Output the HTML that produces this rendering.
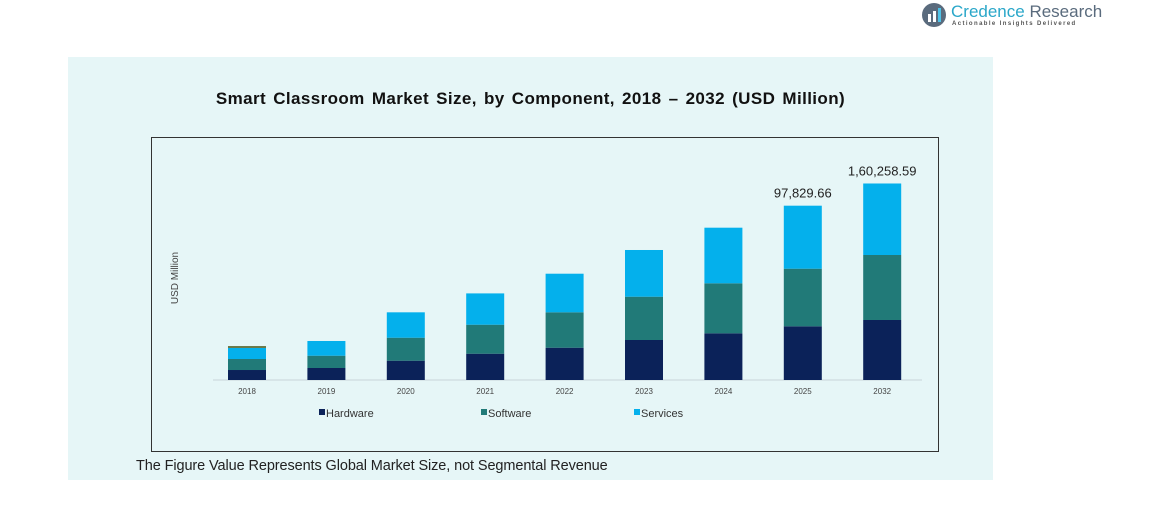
<!DOCTYPE html>
<html><head><meta charset="utf-8"><style>
body{margin:0;width:1172px;height:531px;background:#fff;font-family:"Liberation Sans",sans-serif;position:relative;overflow:hidden}
</style></head><body>
<div style="position:absolute;left:921px;top:2px;width:180px;height:28px">
<svg width="26" height="26" style="position:absolute;left:0;top:0"><circle cx="13" cy="13" r="12" fill="#5a6b7d"/><rect x="7" y="12" width="3" height="8" fill="#fff"/><rect x="12" y="9" width="3" height="11" fill="#fff"/><rect x="17" y="6" width="3" height="14" fill="#4fc3e8"/></svg>
<div style="position:absolute;left:30px;top:0px;font-size:17px;color:#2aa7c9;white-space:nowrap">Credence <span style="color:#5a6b7d">Research</span></div>
<div style="position:absolute;left:31px;top:19px;font-size:6px;letter-spacing:1.4px;color:#555;white-space:nowrap;font-weight:bold">Actionable Insights Delivered</div>
</div>
<div style="position:absolute;left:68px;top:57px;width:925px;height:423px;background:#e6f6f7"></div>
<div style="position:absolute;left:68px;top:89px;width:925px;text-align:center;font-size:17px;letter-spacing:0.4px;word-spacing:2px;font-weight:bold;color:#111">Smart Classroom Market Size, by Component, 2018 – 2032 (USD Million)</div>
<div style="position:absolute;left:151px;top:137px;width:786px;height:313px;border:1px solid #333"></div>
<div style="position:absolute;left:136px;top:458px;font-size:14.5px;letter-spacing:-0.1px;color:#222">The Figure Value Represents Global Market Size, not Segmental Revenue</div>
<svg id="c" width="1172" height="531" style="position:absolute;left:0;top:0"></svg>
<script>
const years=["2018","2019","2020","2021","2022","2023","2024","2025","2032"];
const hardware=[8150,9790,15740,21450,26340,32620,38090,43800,48940];
const software=[8970,10030,18760,23650,28870,35320,40780,46980,53010];
const services=[8970,12000,20700,25530,31480,38090,45350,51380,58320];
const labels={"2025":"97,829.66","2032":"1,60,258.59"};
const colors=["#0b2259","#217a78","#04b0ec"];
const names=["Hardware","Software","Services"];
const NS="http://www.w3.org/2000/svg",svg=document.getElementById('c');
const base=380,maxV=160260,maxPx=196.5;
const y=v=>base-v/maxV*maxPx;
const xc=i=>247+i*79.4;
function el(t,a){const e=document.createElementNS(NS,t);for(const k in a)e.setAttribute(k,a[k]);svg.appendChild(e);return e;}
const ax=el('line',{x1:213,x2:922,y1:base,y2:base,stroke:'#c8d4d8','stroke-width':1});


const yt=el('text',{x:178,y:278,'font-size':10,fill:'#444','text-anchor':'middle',transform:'rotate(-90 178 278)'});
yt.textContent='USD Million';


const series=[hardware,software,services];
years.forEach((yr,i)=>{let acc=0;
 series.forEach((s,k)=>{const r=el('rect',{x:xc(i)-19,y:y(acc+s[i]),width:38,height:y(acc)-y(acc+s[i]),fill:colors[k]});
  
  
  acc+=s[i];});
 if(i===0){const cap=el('rect',{x:xc(i)-19,y:y(acc)-2,width:38,height:2,fill:'#6b7a4a'});
  
  }
 const t=el('text',{x:xc(i),y:394,'font-size':8,fill:'#444','text-anchor':'middle'});t.textContent=yr;
 
 
 if(labels[yr]){const l=el('text',{x:xc(i),y:y(acc)-8,'font-size':13,fill:'#222','text-anchor':'middle'});l.textContent=labels[yr];
  
  }
});
const lx=[319,481,634];
names.forEach((n,k)=>{const r=el('rect',{x:lx[k],y:409,width:6,height:6,fill:colors[k]});
 
 
 const t=el('text',{x:lx[k]+7,y:417,'font-size':11,fill:'#333'});t.textContent=n;
 
 });
</script>
</body></html>
